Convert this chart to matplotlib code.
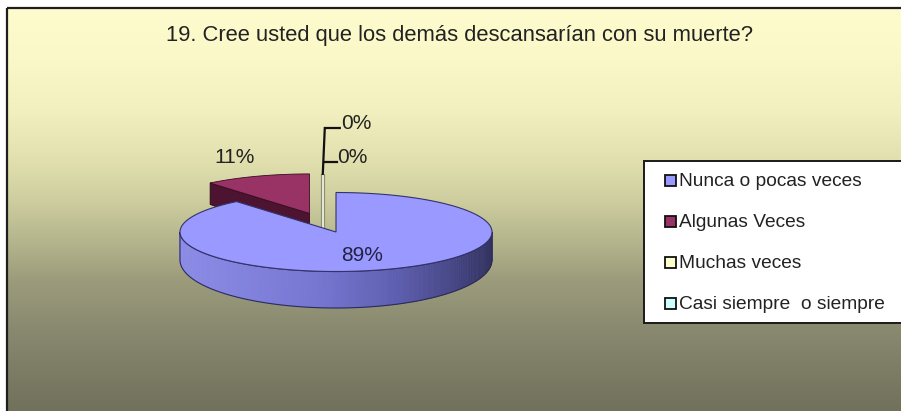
import numpy as np
import matplotlib
matplotlib.use("Agg")
import matplotlib.pyplot as plt
from matplotlib.patches import Polygon, Rectangle
from matplotlib.collections import PolyCollection

plt.rcParams['font.family'] = ['Liberation Sans', 'DejaVu Sans']

# ---------------- data ----------------
title = "19. Cree usted que los demás descansarían con su muerte?"
categories = ["Nunca o pocas veces", "Algunas Veces", "Muchas veces", "Casi siempre  o siempre"]
values = [89, 11, 0, 0]
labels = ["89%", "11%", "0%", "0%"]
top_colors = ["#9999FF", "#993366", "#FFFFCC", "#CCFFFF"]
explode = [0.0, 0.5, 0.0, 0.0]

# ---------------- figure ----------------
W, H = 901, 411
fig = plt.figure(figsize=(W / 100, H / 100), dpi=100)
ax = fig.add_axes([0, 0, 1, 1])
ax.set_xlim(0, W)
ax.set_ylim(H, 0)
ax.axis('off')

# background gradient
stops_y = np.array([8, 60, 110, 160, 200, 240, 280, 330, 411])
stops_c = np.array([
    (254, 252, 206), (250, 248, 200), (242, 240, 190), (226, 224, 174),
    (206, 206, 160), (182, 182, 142), (156, 156, 124), (137, 137, 112),
    (113, 113, 92)]) / 255.0
ys = np.linspace(8, H, 400)
grad = np.stack([np.interp(ys, stops_y, stops_c[:, k]) for k in range(3)], axis=-1)
grad = grad[:, None, :]
ax.imshow(grad, extent=(7, W, H, 8), aspect='auto', interpolation='bilinear', zorder=0)
ax.plot([7, W], [8, 8], color='#1e1e1e', lw=1.6, zorder=1, solid_capstyle='butt')
ax.plot([7, 7], [8, H], color='#1e1e1e', lw=1.6, zorder=1, solid_capstyle='butt')

ax.text(460, 41, title, ha='center', va='baseline', fontsize=15.8, color='#222222')

# ---------------- 3D pie geometry ----------------
cx, cy, A, B = 336.0, 232.0, 156.0, 39.5
D, B2 = 28.0, 48.0


def top_pt(t, ox=0.0, oy=0.0):
    return cx + ox + A * np.cos(t), cy + oy - B * np.sin(t)


def bot_pt(t, ox=0.0, oy=0.0):
    return cx + ox + A * np.cos(t), cy + oy + D - B2 * np.sin(t)


fracs = np.array(values, dtype=float) / np.sum(values)
starts = 90.0 - 360.0 * np.concatenate([[0], np.cumsum(fracs)[:-1]])
ends = starts - 360.0 * fracs
mids = (starts + ends) / 2.0
offsets = []
for i in range(len(values)):
    m = np.deg2rad(mids[i])
    offsets.append((A * explode[i] * np.cos(m), -B * explode[i] * np.sin(m)))

# ---- slice 2 (Algunas Veces), exploded, drawn first (it is behind) ----
i = 1
ox, oy = offsets[i]
t0, t1 = np.deg2rad(ends[i]), np.deg2rad(starts[i])  # ccw from t0 to t1
# cut face along the radius at the slice start (facing the viewer)
rx, ry = top_pt(t1, ox, oy)
bx, by = bot_pt(t1, ox, oy)
face = [(cx + ox, cy + oy), (rx, ry), (bx, by), (cx + ox, cy + oy + D)]
ax.add_patch(Polygon(face, closed=True, fc='#4c1430', ec='#2a0816', lw=0.6, zorder=3))
ts = np.linspace(t0, t1, 60)
pts = [(cx + ox, cy + oy)] + [top_pt(t, ox, oy) for t in ts]
ax.add_patch(Polygon(pts, closed=True, fc=top_colors[i], ec='#3a0c22', lw=0.6, zorder=3.1))

# ---- zero-size slices: thin sliver at the boundary ----
zx = (cx + (cx + ox)) / 2.0
zy_top = cy + oy - B
ax.plot([zx, zx], [zy_top, cy + D], color='#8a8a70', lw=3.0, zorder=2.5, solid_capstyle='butt')
ax.plot([zx, zx], [zy_top, cy + D], color='#e6e6d6', lw=1.5, zorder=2.6, solid_capstyle='butt')

# ---- main slice (Nunca o pocas veces) ----
i = 0
t0, t1 = np.deg2rad(ends[i]), np.deg2rad(starts[i])
# outer side (front half only)
side_ts = np.linspace(np.deg2rad(-180), np.deg2rad(0), 161)
side_x = np.array([0.0, 0.45, 0.7, 0.88, 1.0])
side_c = np.array([(140, 140, 234), (118, 118, 210), (94, 94, 176), (70, 70, 134), (50, 50, 98)]) / 255.0
quads, cols = [], []
for k in range(len(side_ts) - 1):
    ta, tb = side_ts[k], side_ts[k + 1]
    q = [top_pt(ta), top_pt(tb), bot_pt(tb), bot_pt(ta)]
    quads.append(q)
    u = (np.cos((ta + tb) / 2) + 1) / 2
    cols.append([np.interp(u, side_x, side_c[:, j]) for j in range(3)])
ax.add_collection(PolyCollection(quads, facecolors=cols, edgecolors=cols, linewidths=0.4, zorder=4))
outline = [top_pt(t) for t in side_ts] + [bot_pt(t) for t in side_ts[::-1]]
ax.add_patch(Polygon(outline, closed=True, fill=False, ec='#2c2c58', lw=0.8, zorder=4.5))
# top face
ts = np.linspace(t0, t1, 300)
pts = [(cx, cy)] + [top_pt(t) for t in ts]
ax.add_patch(Polygon(pts, closed=True, fc=top_colors[0], ec='#33336a', lw=0.8, zorder=5))

# ---------------- labels ----------------
half_cap = 7.5
m = np.deg2rad(mids[0])
ax.text(cx + 0.5 * A * np.cos(m), cy - 0.5 * B * np.sin(m) + half_cap + 3, labels[0],
        ha='center', va='baseline', fontsize=15, color='#222244', zorder=6)
ox, oy = offsets[1]
m = np.deg2rad(mids[1])
ax.text(cx + ox + 1.25 * A * np.cos(m) - 8.5, cy + oy - 1.25 * B * np.sin(m) - 4, labels[1],
        ha='center', va='baseline', fontsize=15, color='#222222', zorder=6)

# leader lines for the 0% labels
lx = zx + 2
ax.plot([lx + 15, lx, zx], [128, 128, zy_top], color='#111111', lw=1.6, zorder=6,
        solid_joinstyle='miter')
ax.plot([lx, lx + 12], [162, 162], color='#111111', lw=1.6, zorder=6)
ax.text(lx + 16.5, 129, labels[2], ha='left', va='baseline', fontsize=15, color='#222222', zorder=6)
ax.text(lx + 12, 163.3, labels[3], ha='left', va='baseline', fontsize=15, color='#222222', zorder=6)

# ---------------- legend ----------------
ax.add_patch(Rectangle((643.5, 161), 280, 162, fc='white', ec='#1a1a1a', lw=1.4, zorder=7))
base0, step = 186.0, 41.1
for k, (cat, col) in enumerate(zip(categories, top_colors)):
    yb = base0 + k * step
    ax.add_patch(Rectangle((665, yb - 11), 11, 11, fc=col, ec='#111111', lw=1.3, zorder=8))
    ax.text(679, yb, cat, ha='left', va='baseline', fontsize=13.8, color='#222222', zorder=8)

fig.savefig("out.png", dpi=100)
